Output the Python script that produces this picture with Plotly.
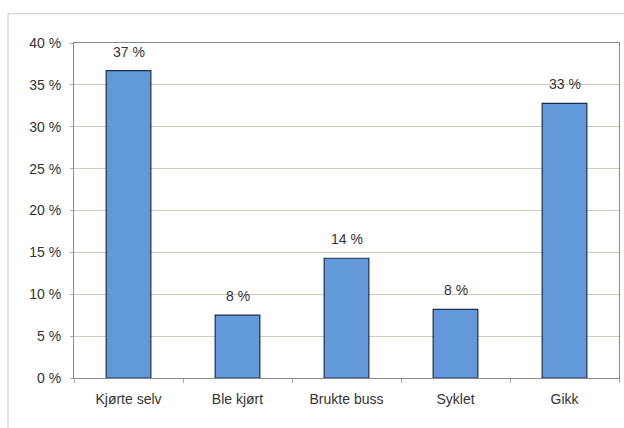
import plotly.graph_objects as go

# Share of trips by mode of travel
categories = ["Kjørte selv", "Ble kjørt", "Brukte buss", "Syklet", "Gikk"]
shares = [36.7, 7.5, 14.3, 8.2, 32.8]
y_ticks = [0, 5, 10, 15, 20, 25, 30, 35, 40]
y_tick_labels = [f"{v} %" for v in y_ticks]

FONT = "Liberation Sans, Arial, sans-serif"
TEXT = "#333333"

fig = go.Figure(
    go.Bar(
        x=categories,
        y=shares,
        width=0.41,
        marker=dict(color="#6299d8", line=dict(color="#1c2d4c", width=1.2)),
        hoverinfo="skip",
    )
)

# value labels above each bar, rounded to whole percent
for cat, val in zip(categories, shares):
    fig.add_annotation(
        x=cat, y=val, text=f"{round(val)} %", showarrow=False,
        yanchor="middle", yshift=19,
        font=dict(family=FONT, size=14, color=TEXT),
    )

# faint outer chart frame
fig.add_shape(
    type="rect", xref="paper", yref="paper",
    x0=-0.121, x1=1.05, y0=-0.25, y1=1.087,
    line=dict(color="#dcdcdc", width=1.5), layer="below",
)

fig.update_layout(
    width=624, height=428,
    margin=dict(l=74, r=5, t=43, b=50),
    paper_bgcolor="white", plot_bgcolor="white",
    showlegend=False,
    font=dict(family=FONT, size=14, color=TEXT),
    bargap=0.59,
)
fig.update_xaxes(
    showline=True, linecolor="#8a8a8a", linewidth=1, mirror=True,
    ticks="outside", tickson="boundaries", ticklen=4, tickcolor="#b0b0b0",
    ticklabelstandoff=8, showgrid=False,
)
fig.update_yaxes(
    range=[0, 40], tickvals=y_ticks, ticktext=y_tick_labels,
    showline=True, linecolor="#8a8a8a", linewidth=1, mirror=True,
    ticks="outside", ticklen=3, tickcolor="#b0b0a0",
    showgrid=True, gridcolor="#cdcdbd", gridwidth=1,
    ticklabelstandoff=6, zeroline=False,
)

fig.write_html("out.html")
